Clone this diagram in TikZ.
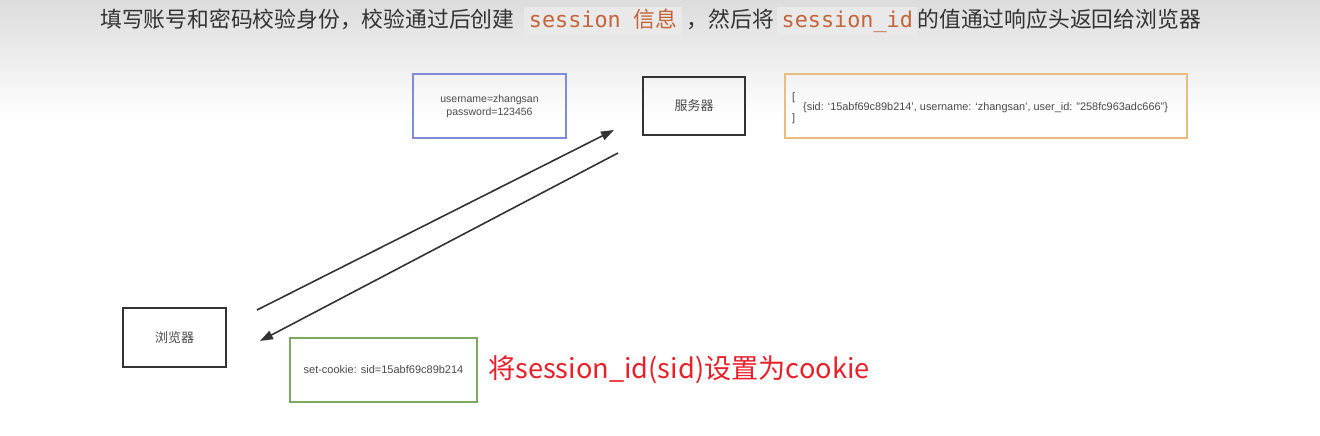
\documentclass[tikz,border=0pt]{standalone}
\usepackage{fontspec}
\setmainfont{Liberation Sans}
\newfontfamily\cjk{Noto Sans CJK SC}
\newfontfamily\codefont{DejaVu Sans Mono}
\usetikzlibrary{arrows.meta}
\definecolor{hdr}{HTML}{333333}
\definecolor{codefg}{HTML}{C4643A}
\definecolor{codebg}{HTML}{E9E9E9}
\definecolor{bluec}{HTML}{7F8CD8}
\definecolor{orangec}{HTML}{E9BC80}
\definecolor{greenc}{HTML}{7FA863}
\definecolor{boxtxt}{HTML}{4A4A4A}
\definecolor{darkline}{HTML}{333333}
\definecolor{redtxt}{HTML}{E8202A}
\definecolor{bgtop}{HTML}{DCDCDC}
\newcommand\hlcode[1]{{\setlength\fboxsep{1.5pt}\colorbox{codebg}{\hspace*{3pt}\rule[-0.27em]{0pt}{1.12em}\textcolor{codefg}{#1}\hspace*{3pt}}}}
\tikzset{
  box/.style={draw, rectangle, inner sep=0pt, text=boxtxt, font=\fontsize{10.5}{13}\selectfont, align=center},
  blackbox/.style={box, draw=darkline, line width=1.8pt, font=\cjk\fontsize{13}{15}\selectfont},
  colbox/.style={box, line width=1.5pt},
  flow/.style={draw=darkline, line width=1.6pt, -{Triangle[length=13pt,width=9pt]}}
}
\begin{document}
\begin{tikzpicture}[x=1pt,y=-1pt]
\useasboundingbox (0,0) rectangle (1320,436);
\shade[top color=bgtop, bottom color=white] (0,0) rectangle (1320,118);
\fill[white] (0,118) rectangle (1320,436);

\node[anchor=west, inner sep=0pt, text=hdr, font=\cjk\fontsize{21.8}{24}\selectfont] (title) at (100,21)
  {填写账号和密码校验身份，校验通过后创建\hspace{10pt}\hlcode{\codefont session \cjk 信息}\hspace{5pt}，然后将\hspace{3pt}\hlcode{\codefont session\_id}的值通过响应头返回给浏览器};

\node[colbox, draw=bluec, minimum width=153pt, minimum height=64pt] (cred) at (489.5,106)
  {username=zhangsan\\password=123456};
\node[blackbox, minimum width=102pt, minimum height=58pt] (server) at (694,106) {服务器};
\node[colbox, draw=orangec, minimum width=402pt, minimum height=64pt] (store) at (986,106) {};
\node[anchor=west, inner sep=0pt, text=boxtxt, align=left, font=\fontsize{10.9}{10.8}\selectfont] (storetxt) at (792,108)
  {[\\\hspace*{11pt}\{sid: ‘15abf69c89b214’, username: ‘zhangsan’, user\_id: ”258fc963adc666”\}\\]};
\node[blackbox, minimum width=103pt, minimum height=59pt] (browser) at (174.5,337.5) {浏览器};
\node[colbox, draw=greenc, minimum width=187pt, minimum height=64pt] (cookie) at (383.5,370)
  {\fontsize{11}{13}\selectfont set-cookie: sid=15abf69c89b214};
\node[anchor=west, inner sep=0pt, text=redtxt, font=\cjk\fontsize{27.2}{30}\selectfont] (note) at (488,370)
  {将session\_id(sid)设置为cookie};

\coordinate (a1s) at (257,310);
\coordinate (a1e) at (614,130);
\coordinate (a2s) at (618,153);
\coordinate (a2e) at (260,341);
\draw[flow] (a1s) -- (a1e);
\draw[flow] (a2s) -- (a2e);
\end{tikzpicture}
\end{document}
